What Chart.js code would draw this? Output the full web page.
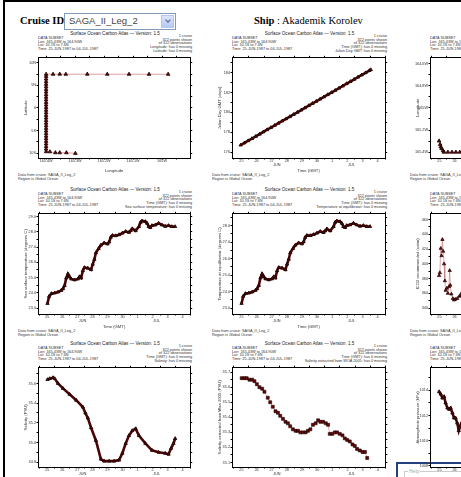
<!DOCTYPE html>
<html>
<head>
<meta charset="utf-8">
<script src="https://cdn.jsdelivr.net/npm/chart.js@4.4.0/dist/chart.umd.min.js"></script>
<style>
  body { margin: 0; width: 461px; height: 477px; overflow: hidden; background: #fff; position: relative; font-family: "Liberation Sans", Arial, sans-serif; }
  #frame { position: absolute; left: 3px; top: 0; width: 456px; height: 480px; border-left: 2px solid #000; border-top: 2px solid #000; border-right: 1px solid #777; }
  .head { position: absolute; font-family: "Liberation Serif", "DejaVu Serif", serif; font-size: 10.5px; color: #000; white-space: nowrap; }
  #sel { position: absolute; left: 64px; top: 13px; width: 110px; height: 15px; border: 1px solid #7f9db9; background: #fff; }
  #sel span { position: absolute; left: 4px; top: 1px; font-size: 9.5px; color: #444; }
  #btn { position: absolute; right: 1px; top: 1px; width: 13px; height: 13px; background: linear-gradient(#dbe6fd, #b5c9f5); border: 1px solid #b3c6ee; box-sizing: border-box; }
  #btn i { position: absolute; left: 4px; top: 2px; width: 3px; height: 3px; border-right: 1.5px solid #4d6185; border-bottom: 1.5px solid #4d6185; transform: rotate(45deg); }
  .t { position: absolute; white-space: nowrap; color: #333; }
  .title { font-size: 4.6px; line-height: 5px; text-align: center; color: #222; }
  .blk { font-size: 3.8px; line-height: 3.7px; }
  canvas { position: absolute; }
  #help { position: absolute; left: 396px; top: 462px; width: 70px; height: 26px; border: 2px solid #233f7e; background: #fff; }
  #help fieldset { position: absolute; left: 6px; top: 4px; width: 60px; height: 20px; margin: 0; padding: 0; border: 1px solid #ccc; }
  #help legend { font-size: 5px; color: #aaa; padding: 0 1px; margin-left: 3px; }
</style>
</head>
<body>
<div id="frame"></div>
<div class="head" style="left:20px;top:15px;"><b>Cruise ID</b></div>
<div id="sel"><span>SAGA_II_Leg_2</span><div id="btn"><i></i></div></div>
<div class="head" style="left:254px;top:15px;"><b>Ship</b> : Akademik Korolev</div>
<div id="help"><fieldset><legend>Help</legend></fieldset></div>
<script>
// Time axis (days of 1987, Jun 25 = day 176); labels sit at noon
const dayEdges = [176, 177, 178, 179, 180, 181, 182, 183, 184, 185, 186];
const dayNoon = [176.5, 177.5, 178.5, 179.5, 180.5, 181.5, 182.5, 183.5, 184.5, 185.5];
const dayLabels = ['25', '26', '27', '28', '29', '30', '1', '2', '3', '4'];
const monthAt = [178.84, 183.77];
const monthLabels = ['JUN', 'JUL'];

// Ship track (start heading west at 10S, then north along 165.4W, then east)
const trackDay = [176.48, 176.55, 176.59, 176.65, 176.74,
  176.80, 177.06, 177.33, 177.59, 177.85, 178.12, 178.38, 178.64, 178.91, 179.17, 179.43, 179.70, 179.96, 180.22, 180.49, 180.75,
  181.01, 181.28, 181.54, 181.80, 182.07, 182.33, 182.59, 182.86, 183.12, 183.38, 183.65, 183.91, 184.17, 184.44, 184.70,
  184.76, 184.82, 184.88, 184.94, 184.98, 185.01, 185.04, 185.07];
const trackLon = [-165.299, -165.330, -165.353, -165.368, -165.387,
  -165.4, -165.4, -165.4, -165.4, -165.4, -165.4, -165.4, -165.4, -165.4, -165.4, -165.4, -165.4, -165.4, -165.4, -165.4, -165.4,
  -165.4, -165.4, -165.4, -165.4, -165.4, -165.4, -165.4, -165.4, -165.4, -165.4, -165.4, -165.4, -165.4, -165.4, -165.4,
  -165.376, -165.353, -165.332, -165.258, -165.189, -165.114, -165.045, -164.979];
const trackLat = [-10.07, -9.93, -9.93, -9.93, -9.72,
  -9.70, -9.12, -8.55, -7.97, -7.40, -6.82, -6.25, -5.67, -5.10, -4.52, -3.95, -3.37, -2.80, -2.22, -1.65, -1.07,
  -0.50, 0.08, 0.65, 1.23, 1.80, 2.38, 2.95, 3.53, 4.10, 4.68, 5.25, 5.83, 6.40, 6.98, 7.46,
  7.46, 7.48, 7.46, 7.47, 7.46, 7.46, 7.45, 7.46];

// Julian day
const julDay = [176.45, 176.70, 176.95, 177.20, 177.45, 177.70, 177.95, 178.20, 178.45, 178.70, 178.95, 179.20,
  179.45, 179.70, 179.95, 180.20, 180.45, 180.70, 180.95, 181.20, 181.45, 181.70, 181.95, 182.20,
  182.45, 182.70, 182.95, 183.20, 183.45, 183.70, 183.95, 184.20, 184.45, 184.70, 184.95, 185.05];
const julVal = [176.70, 176.92, 177.14, 177.36, 177.58, 177.80, 178.03, 178.25, 178.47, 178.69, 178.91, 179.13,
  179.35, 179.57, 179.79, 180.01, 180.23, 180.46, 180.68, 180.90, 181.12, 181.34, 181.56, 181.78,
  182.00, 182.22, 182.44, 182.66, 182.89, 183.11, 183.33, 183.55, 183.77, 183.99, 184.21, 184.30];

// Sea surface temperature and equilibrator temperature (same sample times)
const sstDay = [176.51, 176.62, 176.77, 176.99, 177.21, 177.43, 177.54, 177.65, 177.76, 177.87,
  177.98, 178.09, 178.31, 178.53, 178.64, 178.75, 178.86, 178.97, 179.19, 179.41,
  179.52, 179.63, 179.73, 179.91, 180.06, 180.28, 180.50, 180.61, 180.72, 180.83,
  181.05, 181.27, 181.49, 181.71, 181.93, 182.04, 182.15, 182.37, 182.59, 182.70,
  182.80, 183.02, 183.13, 183.24, 183.35, 183.46, 183.68, 183.90, 184.12, 184.34,
  184.56, 184.78, 185.00];
const sstVal = [23.30, 23.77, 23.95, 23.99, 24.05, 24.16, 24.27, 24.48, 24.98, 25.24,
  25.06, 24.91, 24.85, 24.91, 25.06, 24.98, 25.45, 25.66, 25.62, 25.52,
  25.88, 26.20, 26.63, 26.91, 27.13, 27.28, 27.21, 27.34, 27.65, 27.77,
  27.75, 27.82, 27.92, 28.03, 27.97, 28.08, 28.21, 28.08, 28.35, 28.63,
  28.72, 28.68, 28.57, 28.35, 28.29, 28.42, 28.46, 28.57, 28.46, 28.37,
  28.42, 28.35, 28.35];
const teqVal = [23.28, 23.71, 23.88, 23.91, 23.97, 24.07, 24.17, 24.37, 24.83, 25.07,
  24.90, 24.77, 24.71, 24.77, 24.90, 24.83, 25.26, 25.46, 25.42, 25.32,
  25.66, 25.96, 26.35, 26.61, 26.81, 26.95, 26.89, 27.01, 27.29, 27.40,
  27.39, 27.45, 27.54, 27.64, 27.58, 27.68, 27.80, 27.68, 27.94, 28.20,
  28.28, 28.24, 28.14, 27.94, 27.88, 28.00, 28.04, 28.14, 28.04, 27.96,
  28.00, 27.94, 27.94];

// Salinity
const salDay = [176.51, 176.66, 176.88, 176.99, 177.21, 177.54, 177.98, 178.42, 178.86, 179.03,
  179.19, 179.41, 179.73, 180.06, 180.28, 180.61, 180.94, 181.27, 181.49, 181.71,
  181.93, 182.15, 182.37, 182.59, 183.02, 183.46, 183.90, 184.34, 184.56, 184.73,
  184.89, 185.00];
const salVal = [35.64, 35.65, 35.66, 35.65, 35.60, 35.55, 35.49, 35.43, 35.36, 35.30,
  35.25, 35.15, 35.02, 34.83, 34.81, 34.81, 34.81, 34.82, 34.89, 34.99,
  35.07, 35.12, 35.14, 35.07, 34.99, 34.92, 34.90, 34.89, 34.88, 34.94,
  34.99, 35.04];

// Salinity extracted from WOA 2005
const woaDay = [176.52, 176.70, 176.85, 177.03, 177.21, 177.36, 177.52, 177.69, 177.87, 178.02,
  178.24, 178.40, 178.57, 178.75, 178.91, 179.06, 179.24, 179.41, 179.57, 179.72,
  179.90, 180.08, 180.23, 180.39, 180.56, 180.74, 180.89, 181.05, 181.22, 181.40,
  181.56, 181.71, 181.89, 182.07, 182.22, 182.33, 182.50, 182.66, 182.81, 182.99,
  183.17, 183.32, 183.48, 183.65, 183.83, 183.98, 184.13, 184.31, 184.49, 184.65,
  184.80];
const woaVal = [35.66, 35.66, 35.66, 35.65, 35.65, 35.64, 35.62, 35.60, 35.59, 35.57,
  35.53, 35.50, 35.47, 35.44, 35.43, 35.41, 35.39, 35.37, 35.36, 35.34,
  35.32, 35.31, 35.31, 35.30, 35.30, 35.30, 35.31, 35.32, 35.35, 35.36,
  35.38, 35.37, 35.37, 35.36, 35.35, 35.29, 35.29, 35.30, 35.30, 35.29,
  35.28, 35.26, 35.25, 35.24, 35.22, 35.21, 35.19, 35.18, 35.17, 35.17,
  35.13];

// fCO2 recommended (only the start is visible)
const fco2Day = [176.48, 176.53, 176.59, 176.64, 176.70, 176.75, 176.81, 176.86, 176.91, 176.99,
  177.06, 177.13, 177.18, 177.22, 177.29, 177.39, 177.47, 177.55, 177.68, 177.82,
  177.88, 177.98, 178.08];
const fco2Val = [384, 388, 421, 411, 433, 417, 400, 377, 364, 367,
  360, 369, 391, 371, 359, 353, 351, 352, 353, 356,
  357, 361, 364];

// Atmospheric pressure (only the start is visible)
const presDay = [176.48, 176.59, 176.70, 176.81, 176.91, 177.03, 177.14, 177.24, 177.36, 177.47,
  177.57, 177.68, 177.78, 177.89, 178.01];
const presVal = [1013.9, 1013.7, 1013.4, 1013.5, 1013.0, 1012.6, 1012.5, 1012.6, 1012.2, 1011.8,
  1011.8, 1011.4, 1010.8, 1011.2, 1011.5];

// Axis ticks
const latMajor = [-10, -5, 0, 5, 10];
const latLabels = ['10S', '5S', '0', '5N', '10N'];
const latMinor = [-7.5, -2.5, 2.5, 7.5];
const lonMajor = [-165.4, -165.3, -165.2, -165.1, -165.0];
const lonLabels = ['165.4W', '165.3W', '165.2W', '165.1W', '165W'];
const lonMinor = [-165.35, -165.25, -165.15, -165.05, -164.95];
const julMajor = [176, 178, 180, 182, 184];
const julLabels = ['176', '178', '180', '182', '184'];
const julMinor = [177, 179, 181, 183, 185];
const lon2Major = [-165.4, -165.2, -165.0, -164.8, -164.6];
const lon2Labels = ['165.4W', '165.2W', '165W', '164.8W', '164.6W'];
const lon2Minor = [-165.3, -165.1, -164.9, -164.7];
const sstMajor = [23, 24, 25, 26, 27, 28, 29];
const sstLabels = ['23.0', '24.0', '25.0', '26.0', '27.0', '28.0', '29.0'];
const sstMinor = [23.5, 24.5, 25.5, 26.5, 27.5, 28.5];
const teqMajor = [23, 24, 25, 26, 27, 28];
const teqLabels = ['23.0', '24.0', '25.0', '26.0', '27.0', '28.0'];
const teqMinor = [23.5, 24.5, 25.5, 26.5, 27.5, 28.5];
const fco2Major = [340, 360, 380, 400, 420, 440, 460];
const fco2Labels = ['340', '360', '380', '400', '420', '440', '460'];
const fco2Minor = [350, 370, 390, 410, 430, 450];
const salMajor = [34.8, 35.0, 35.2, 35.4, 35.6];
const salLabels = ['34.8', '35.0', '35.2', '35.4', '35.6'];
const salMinor = [34.9, 35.1, 35.3, 35.5, 35.7];
const woaMajor = [35.1, 35.2, 35.3, 35.4, 35.5, 35.6, 35.7];
const woaLabels = ['35.1', '35.2', '35.3', '35.4', '35.5', '35.6', '35.7'];
const woaMinor = [35.15, 35.25, 35.35, 35.45, 35.55, 35.65];
const presMajor = [1008, 1010, 1012, 1014];
const presLabels = ['1008', '1010', '1012', '1014'];
const presMinor = [1009, 1011, 1013, 1015];

const YW = 15, TH = 3, RW = 3, XH = 15;
const colLeft = [38, 232, 430], colW = [154, 155, 155];
const rowTop = [56, 212, 366], rowH = [102, 102, 101];

const leftBlock = ['DATA SUBSET', 'Lon: 165.43W to 164.90W', 'Lat: 10.1S to 7.6N', 'Time: 25-JUN-1987 to 04-JUL-1987'];

function pts(xs, ys) { return xs.map((x, i) => ({ x: x, y: ys[i] })); }

function tickList(major, labels, minor) {
  const t = major.map((v, i) => ({ value: v, lbl: labels[i] }));
  minor.forEach(v => t.push({ value: v, lbl: '' }));
  return t.sort((a, b) => a.value - b.value);
}

function timeTicks() {
  const t = dayEdges.map(v => ({ value: v, lbl: '' }));
  dayNoon.forEach((v, i) => t.push({ value: v, lbl: dayLabels[i], hide: true }));
  monthAt.forEach((v, i) => t.push({ value: v, lbl: ['', monthLabels[i]], hide: true }));
  return t.sort((a, b) => a.value - b.value);
}

function addText(cls, left, top, width, align, lines) {
  const d = document.createElement('div');
  d.className = 't ' + cls;
  d.style.left = left + 'px';
  d.style.top = top + 'px';
  d.style.width = width + 'px';
  d.style.textAlign = align;
  d.innerHTML = lines.join('<br>');
  document.body.appendChild(d);
}

const styles = {
  thick: { showLine: true, borderColor: '#4a0606', borderWidth: 2.6, pointStyle: 'triangle', pointRadius: 1.9,
    pointBackgroundColor: '#7a0808', pointBorderColor: '#120000', pointBorderWidth: 0.8 },
  track: { showLine: true, borderColor: '#c06060', borderWidth: 0.6, pointStyle: 'triangle', pointRadius: 2.1,
    pointBackgroundColor: '#700808', pointBorderColor: '#150000', pointBorderWidth: 0.8 },
  squares: { showLine: true, borderColor: '#c06060', borderWidth: 0.5, pointStyle: 'rect', pointRadius: 2.1,
    pointBackgroundColor: '#6a0606', pointBorderColor: '#150000', pointBorderWidth: 0.6 },
  thin: { showLine: true, borderColor: '#c07070', borderWidth: 0.6, pointStyle: 'triangle', pointRadius: 1.9,
    pointBackgroundColor: '#800a0a', pointBorderColor: '#150000', pointBorderWidth: 0.7 }
};

function panel(p) {
  const L = colLeft[p.col], W = colW[p.col], T = rowTop[p.row], H = rowH[p.row];
  addText('title', L, T - 25, W, 'center', ['Surface Ocean Carbon Atlas \u2014 Version: 1.5']);
  addText('blk', L, T - 19, 120, 'left', leftBlock);
  addText('blk', L + W - 110, T - 21, 110, 'right',
    ['1 cruise', '322 points shown', 'of 322 observations', p.xName + ': has 0 missing', p.yName + ': has 0 missing']);
  addText('blk', L - 20, T + H + 16, 120, 'left', ['Data from cruise: SAGA_II_Leg_2', 'Region is Global Ocean']);

  const cv = document.createElement('canvas');
  cv.width = YW + W + RW;
  cv.height = TH + H + XH;
  cv.style.left = (L - YW) + 'px';
  cv.style.top = (T - TH) + 'px';
  document.body.appendChild(cv);

  const xT = p.xTicks, yT = p.yTicks;
  const tickColor = c => (c.tick && c.tick.hide) ? 'rgba(0,0,0,0)' : '#000';
  const font = { family: 'Liberation Sans', size: 3.8, lineHeight: 1 };
  new Chart(cv, {
    type: 'scatter',
    data: { datasets: [Object.assign({ data: pts(p.xs, p.ys) }, styles[p.style])] },
    options: {
      responsive: false, animation: false, events: [],
      layout: { padding: 0 },
      plugins: { legend: { display: false }, tooltip: { enabled: false } },
      scales: {
        x: {
          type: 'linear', position: 'bottom', min: p.xMin, max: p.xMax,
          afterBuildTicks: s => { s.ticks = xT.map(t => Object.assign({}, t)); },
          afterFit: s => { s.height = XH; },
          ticks: { autoSkip: false, maxRotation: 0, padding: 0, color: '#333', font: font,
            callback: (v, i, t) => t[i].lbl },
          grid: { drawOnChartArea: false, tickLength: 1.5, color: '#000', tickColor: tickColor },
          border: { color: '#000', width: 1 },
          title: { display: true, text: p.xTitle, color: '#333', padding: 0, font: { family: 'Liberation Sans', size: 4.2 } }
        },
        x2: {
          type: 'linear', position: 'top', min: p.xMin, max: p.xMax,
          afterBuildTicks: s => { s.ticks = xT.map(t => Object.assign({}, t)); },
          afterFit: s => { s.height = TH; },
          ticks: { display: false },
          grid: { drawOnChartArea: false, tickLength: 2, color: '#000', tickColor: tickColor },
          border: { color: '#000', width: 1 }
        },
        y: {
          type: 'linear', position: 'left', min: p.yMin, max: p.yMax,
          afterBuildTicks: s => { s.ticks = yT.map(t => Object.assign({}, t)); },
          afterFit: s => { s.width = YW; },
          ticks: { autoSkip: false, padding: 0.5, color: '#333', font: font,
            callback: (v, i, t) => t[i].lbl },
          grid: { drawOnChartArea: false, tickLength: 1.5, color: '#000' },
          border: { color: '#000', width: 1 },
          title: { display: true, text: p.yTitle, color: '#333', padding: 0, font: { family: 'Liberation Sans', size: 4.2 } }
        },
        y2: {
          type: 'linear', position: 'right', min: p.yMin, max: p.yMax,
          afterBuildTicks: s => { s.ticks = yT.map(t => Object.assign({}, t)); },
          afterFit: s => { s.width = RW; },
          ticks: { display: false },
          grid: { drawOnChartArea: false, tickLength: 2, color: '#000' },
          border: { color: '#000', width: 1 }
        }
      }
    }
  });
}

const T0 = 175.88, T1 = 186.0;

panel({ col: 0, row: 0, xs: trackLon, ys: trackLat, style: 'track',
  xTicks: tickList(lonMajor, lonLabels, lonMinor), yTicks: tickList(latMajor, latLabels, latMinor),
  xMin: -165.428, xMax: -164.903, yMin: -11.1, yMax: 11.1,
  xTitle: 'Longitude', yTitle: 'Latitude', xName: 'Longitude', yName: 'Latitude' });
panel({ col: 1, row: 0, xs: julDay, ys: julVal, style: 'thick',
  xTicks: timeTicks(), yTicks: tickList(julMajor, julLabels, julMinor),
  xMin: T0, xMax: T1, yMin: 175.4, yMax: 185.5,
  xTitle: 'Time (GMT)', yTitle: 'Julian Day GMT (days)', xName: 'Time (GMT)', yName: 'Julian Day GMT' });
panel({ col: 2, row: 0, xs: trackDay, ys: trackLon, style: 'track',
  xTicks: timeTicks(), yTicks: tickList(lon2Major, lon2Labels, lon2Minor),
  xMin: T0, xMax: T1, yMin: -165.453, yMax: -164.547,
  xTitle: 'Time (GMT)', yTitle: 'Longitude', xName: 'Time (GMT)', yName: 'Longitude' });

panel({ col: 0, row: 1, xs: sstDay, ys: sstVal, style: 'thick',
  xTicks: timeTicks(), yTicks: tickList(sstMajor, sstLabels, sstMinor),
  xMin: T0, xMax: T1, yMin: 22.61, yMax: 29.19,
  xTitle: 'Time (GMT)', yTitle: 'Sea surface temperature (degrees C)', xName: 'Time (GMT)', yName: 'Sea surface temperature' });
panel({ col: 1, row: 1, xs: sstDay, ys: teqVal, style: 'thick',
  xTicks: timeTicks(), yTicks: tickList(teqMajor, teqLabels, teqMinor),
  xMin: T0, xMax: T1, yMin: 22.64, yMax: 28.71,
  xTitle: 'Time (GMT)', yTitle: 'Temperature at equilibrator (degrees C)', xName: 'Time (GMT)', yName: 'Temperature at equilibrator' });
panel({ col: 2, row: 1, xs: fco2Day, ys: fco2Val, style: 'thin',
  xTicks: timeTicks(), yTicks: tickList(fco2Major, fco2Labels, fco2Minor),
  xMin: T0, xMax: T1, yMin: 332, yMax: 468,
  xTitle: 'Time (GMT)', yTitle: 'fCO2 recommended (uatm)', xName: 'Time (GMT)', yName: 'fCO2 recommended' });

panel({ col: 0, row: 2, xs: salDay, ys: salVal, style: 'thick',
  xTicks: timeTicks(), yTicks: tickList(salMajor, salLabels, salMinor),
  xMin: T0, xMax: T1, yMin: 34.75, yMax: 35.76,
  xTitle: 'Time (GMT)', yTitle: 'Salinity (PSU)', xName: 'Time (GMT)', yName: 'Salinity' });
panel({ col: 1, row: 2, xs: woaDay, ys: woaVal, style: 'squares',
  xTicks: timeTicks(), yTicks: tickList(woaMajor, woaLabels, woaMinor),
  xMin: T0, xMax: T1, yMin: 35.07, yMax: 35.73,
  xTitle: 'Time (GMT)', yTitle: 'Salinity extracted from Woa 2005 (PSU)', xName: 'Time (GMT)', yName: 'Salinity extracted from WOA 2005' });
panel({ col: 2, row: 2, xs: presDay, ys: presVal, style: 'thick',
  xTicks: timeTicks(), yTicks: tickList(presMajor, presLabels, presMinor),
  xMin: T0, xMax: T1, yMin: 1007.9, yMax: 1015.8,
  xTitle: 'Time (GMT)', yTitle: 'Atmospheric pressure (hPa)', xName: 'Time (GMT)', yName: 'Atmospheric pressure' });
</script>
</body>
</html>
